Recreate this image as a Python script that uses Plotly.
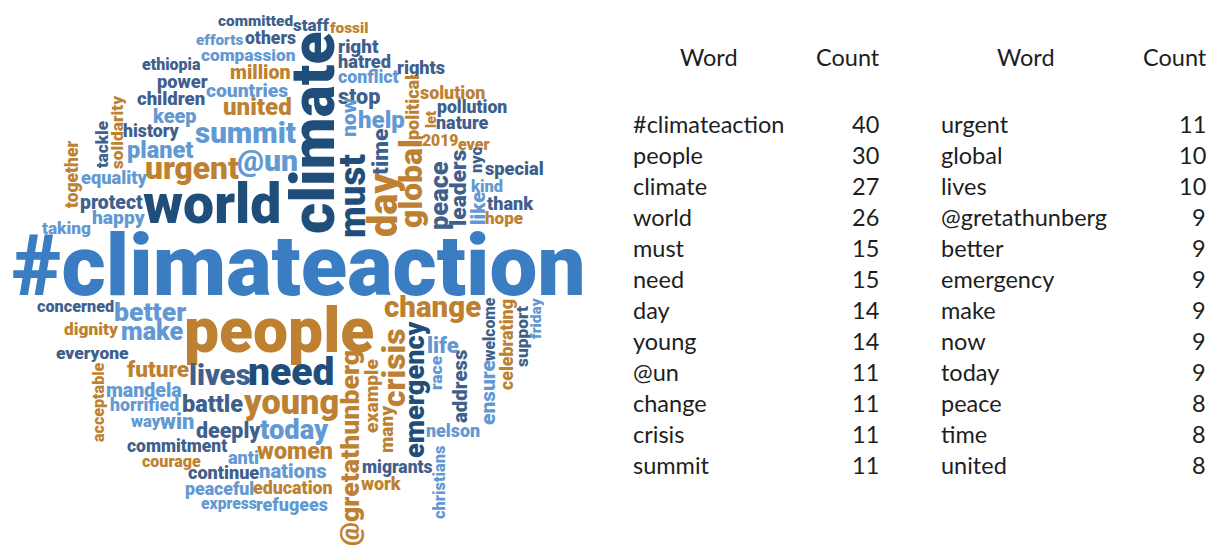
import plotly.graph_objects as go

# ---------------- table data ----------------
table_header = ["Word", "Count", "Word", "Count"]
table_words_left = ["#climateaction", "people", "climate", "world", "must", "need",
                    "day", "young", "@un", "change", "crisis", "summit"]
table_counts_left = [40, 30, 27, 26, 15, 15, 14, 14, 11, 11, 11, 11]
table_words_right = ["urgent", "global", "lives", "@gretathunberg", "better", "emergency",
                     "make", "now", "today", "peace", "time", "united"]
table_counts_right = [11, 10, 10, 9, 9, 9, 9, 9, 9, 8, 8, 8]

# ---------------- word cloud data ----------------
cloud_words = [
    "committed", "staff", "fossil", "efforts", "others", "compassion", "ethiopia", "million",
    "power", "countries", "children", "united", "keep", "history", "summit", "planet", "@un",
    "urgent", "equality", "protect", "happy", "world", "taking", "#climateaction", "concerned",
    "better", "dignity", "make", "people", "everyone", "future", "lives", "need", "mandela",
    "horrified", "battle", "young", "way", "win", "deeply", "today", "commitment", "courage",
    "anti", "women", "continue", "nations", "peaceful", "education", "express", "refugees",
    "migrants", "work", "nelson", "life", "change", "right", "hatred", "conflict", "rights",
    "stop", "help", "solution", "pollution", "nature", "2019", "ever", "special", "kind",
    "thank", "hope",
    # vertical words
    "climate", "must", "now", "time", "day", "global", "political", "let", "peace", "leaders",
    "nyc", "like", "tackle", "solidarity", "together", "crisis", "emergency", "@gretathunberg",
    "example", "many", "race", "address", "welcome", "ensure", "celebrating", "support",
    "friday", "christians", "acceptable",
]

# placement of each cloud word: (centre x px, centre y px, extent px, vertical?, colour key)
cloud_place = [
    (255, 21, 75, 0, "S"), (311, 25, 35, 0, "S"), (349, 28, 38, 0, "G"), (220, 40, 46, 0, "L"),
    (270, 38, 50, 0, "S"), (248, 55, 95, 0, "L"), (171, 64, 58, 0, "S"), (260, 72, 60, 0, "G"),
    (182, 81, 49, 0, "S"), (247, 90, 81, 0, "L"), (171, 99, 67, 0, "S"), (257, 107, 67, 0, "G"),
    (174, 116, 42, 0, "L"), (151, 131, 55, 0, "S"), (245, 133, 100, 0, "L"), (160, 150, 65, 0, "L"),
    (267, 160, 58, 0, "L"), (192, 168, 91, 0, "G"), (114, 177, 65, 0, "L"), (111, 202, 62, 0, "S"),
    (119, 217, 52, 0, "L"), (212, 204, 134, 0, "D"), (66, 228, 48, 0, "L"), (299, 266, 572, 0, "M"),
    (75, 306, 76, 0, "S"), (150, 311, 70, 0, "L"), (91, 329, 53, 0, "G"), (152, 331, 61, 0, "L"),
    (279, 330, 187, 0, "G"), (92, 353, 71, 0, "S"), (158, 369, 60, 0, "G"), (220, 375, 60, 0, "S"),
    (291, 372, 83, 0, "D"), (144, 390, 75, 0, "L"), (144, 405, 68, 0, "L"), (212, 404, 60, 0, "S"),
    (291, 402, 93, 0, "G"), (146, 421, 28, 0, "L"), (177, 421, 32, 0, "L"), (228, 430, 63, 0, "S"),
    (294, 430, 68, 0, "L"), (177, 446, 100, 0, "S"), (171, 461, 58, 0, "G"), (243, 457, 30, 0, "L"),
    (295, 451, 74, 0, "G"), (223, 472, 70, 0, "S"), (293, 471, 67, 0, "L"), (219, 489, 68, 0, "L"),
    (293, 487, 79, 0, "G"), (229, 503, 55, 0, "L"), (292, 504, 70, 0, "L"), (397, 467, 70, 0, "S"),
    (381, 483, 38, 0, "G"), (453, 430, 53, 0, "L"), (443, 345, 30, 0, "L"), (432, 307, 95, 0, "G"),
    (358, 46, 39, 0, "S"), (364, 61, 52, 0, "S"), (368, 77, 60, 0, "L"), (421, 67, 47, 0, "S"),
    (359, 96, 42, 0, "S"), (381, 120, 45, 0, "L"), (452, 92, 65, 0, "G"), (472, 107, 70, 0, "S"),
    (462, 122, 51, 0, "S"), (440, 140, 34, 0, "G"), (473, 144, 30, 0, "G"), (514, 168, 58, 0, "S"),
    (487, 186, 31, 0, "L"), (510, 203, 45, 0, "S"), (504, 218, 37, 0, "G"),
    # vertical
    (313, 133, 200, 1, "D"), (352, 196, 82, 1, "D"), (348, 118, 37, 1, "L"), (380, 152, 45, 1, "S"),
    (383, 205, 62, 1, "G"), (411, 184, 88, 1, "G"), (412, 108, 65, 1, "G"), (431, 120, 16, 1, "G"),
    (439, 196, 67, 1, "S"), (458, 188, 75, 1, "S"), (476, 160, 25, 1, "S"), (478, 209, 32, 1, "L"),
    (102, 145, 46, 1, "S"), (117, 132, 73, 1, "G"), (72, 175, 66, 1, "G"), (394, 368, 77, 1, "G"),
    (415, 390, 134, 1, "D"), (350, 448, 194, 1, "G"), (371, 396, 73, 1, "G"), (386, 430, 46, 1, "G"),
    (436, 373, 33, 1, "L"), (460, 386, 73, 1, "S"), (489, 329, 62, 1, "S"), (488, 393, 63, 1, "L"),
    (506, 345, 90, 1, "G"), (522, 337, 60, 1, "S"), (536, 318, 40, 1, "L"), (439, 483, 73, 1, "L"),
    (98, 402, 79, 1, "G"),
]

palette = {"D": "#1F4E7A", "S": "#3F5F8C", "M": "#3B7DC3", "L": "#6399D2", "G": "#BE8131"}

# approximate heavy-weight advance widths (1/1000 em) used to size words to their extent
adv = dict(a=545, b=575, c=525, d=575, e=535, f=360, g=575, h=565, i=280, j=280, k=550,
           l=280, m=875, n=560, o=580, p=575, q=575, r=370, s=525, t=350, u=560, v=520,
           w=700, x=520, y=520, z=500)
adv.update({"#": 560, "@": 880})
for dgt in "0123456789":
    adv[dgt] = 560


def em_width(word):
    return sum(adv.get(ch, 556) for ch in word) / 1000.0 - 0.08


W, H = 1216, 551
fig = go.Figure()
fig.add_trace(go.Scatter(x=[0, W], y=[0, H], mode="markers",
                         marker=dict(opacity=0), hoverinfo="skip", showlegend=False))

annotations = []
for word, (cx, cy, ext, vert, ck) in zip(cloud_words, cloud_place):
    fs = ext / em_width(word)
    annotations.append(dict(
        x=cx, y=cy, xref="x", yref="y", text=word, showarrow=False,
        xanchor="center", yanchor="middle", textangle=-90 if vert else 0,
        font=dict(family="Roboto", size=fs, color=palette[ck], weight=900),
        borderpad=0,
    ))

# ---------------- table as text ----------------
tfont = dict(family="Lato", size=23.5, color="#1E1E1E")
header_x = [709, 848, 1026, 1175]
for hx, htxt in zip(header_x, table_header):
    annotations.append(dict(x=hx, y=57, xref="x", yref="y", text=htxt, showarrow=False,
                            xanchor="center", yanchor="middle", font=tfont, borderpad=0))

row_y0, row_step = 124, 31
for i, (w1, c1, w2, c2) in enumerate(zip(table_words_left, table_counts_left,
                                         table_words_right, table_counts_right)):
    yy = row_y0 + i * row_step
    annotations.append(dict(x=632, y=yy, xref="x", yref="y", text=w1, showarrow=False,
                            xanchor="left", yanchor="middle", font=tfont, borderpad=0))
    annotations.append(dict(x=880, y=yy, xref="x", yref="y", text=str(c1), showarrow=False,
                            xanchor="right", yanchor="middle", font=tfont, borderpad=0))
    annotations.append(dict(x=940, y=yy, xref="x", yref="y", text=w2, showarrow=False,
                            xanchor="left", yanchor="middle", font=tfont, borderpad=0))
    annotations.append(dict(x=1207, y=yy, xref="x", yref="y", text=str(c2), showarrow=False,
                            xanchor="right", yanchor="middle", font=tfont, borderpad=0))

fig.update_layout(
    width=W, height=H, margin=dict(l=0, r=0, t=0, b=0),
    paper_bgcolor="white", plot_bgcolor="white",
    xaxis=dict(range=[0, W], visible=False, fixedrange=True),
    yaxis=dict(range=[H, 0], visible=False, fixedrange=True),
    annotations=annotations, showlegend=False,
)

fig.write_html("out.html", config={"displayModeBar": False},
               post_script="document.body.style.margin='0px';document.body.style.overflow='hidden';")
